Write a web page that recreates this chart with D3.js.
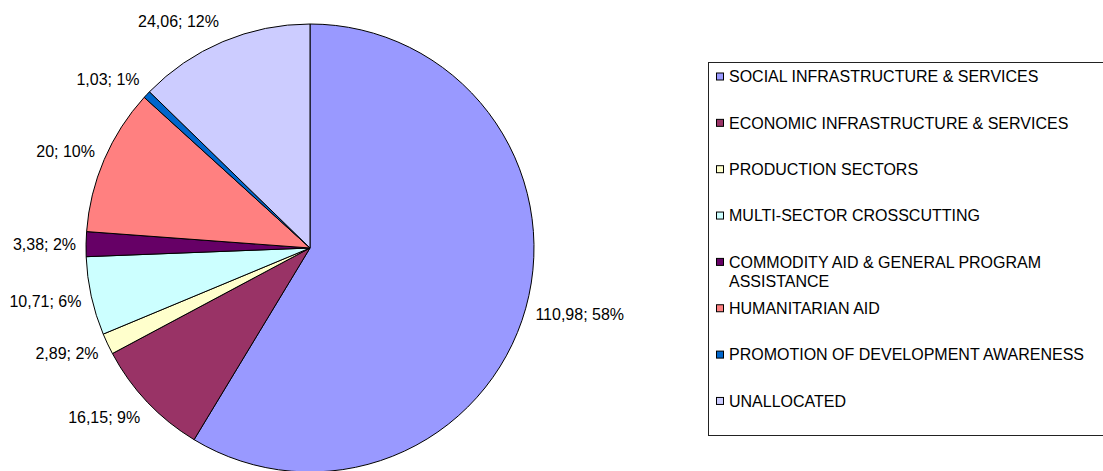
<!DOCTYPE html>
<html lang="en">
<head>
  <meta charset="UTF-8">
  <title>Aid by sector</title>
  <style>
    body {
      margin: 0;
      background-color: #fff;
    }
    svg {
      display: block;
    }
    .label, .legend text {
      font-family: "Liberation Sans", Arial, sans-serif;
      font-size: 16px;
      fill: #000;
    }
  </style>
</head>
<body>
  <svg class="chart"></svg>

  <script src="https://cdn.jsdelivr.net/npm/d3@7"></script>
  <script>
    var categories = [
      "SOCIAL INFRASTRUCTURE & SERVICES",
      "ECONOMIC INFRASTRUCTURE & SERVICES",
      "PRODUCTION SECTORS",
      "MULTI-SECTOR CROSSCUTTING",
      "COMMODITY AID & GENERAL PROGRAM ASSISTANCE",
      "HUMANITARIAN AID",
      "PROMOTION OF DEVELOPMENT AWARENESS",
      "UNALLOCATED"
    ];
    var values = [110.98, 16.15, 2.89, 10.71, 3.38, 20, 1.03, 24.06];
    // percentages as printed on the chart
    var percents = [58, 9, 2, 6, 2, 10, 1, 12];
    var colors = ["#9999ff", "#993366", "#ffffcc", "#ccffff", "#660066", "#ff8080", "#0066cc", "#ccccff"];
    // legend lines (long names wrap)
    var legendLines = [
      ["SOCIAL INFRASTRUCTURE & SERVICES"],
      ["ECONOMIC INFRASTRUCTURE & SERVICES"],
      ["PRODUCTION SECTORS"],
      ["MULTI-SECTOR CROSSCUTTING"],
      ["COMMODITY AID & GENERAL PROGRAM", "ASSISTANCE"],
      ["HUMANITARIAN AID"],
      ["PROMOTION OF DEVELOPMENT AWARENESS"],
      ["UNALLOCATED"]
    ];

    var width = 1103,
      height = 471;
    var cx = 310,
      cy = 248,
      radius = 224,
      labelRadius = 234;

    var svg = d3.select(".chart")
      .attr("width", width)
      .attr("height", height);

    var data = categories.map(function(c, i) {
      return { name: c, value: values[i], pct: percents[i], color: colors[i] };
    });

    var pie = d3.pie()
      .sort(null)
      .value(function(d) { return d.value; });

    var arc = d3.arc()
      .innerRadius(0)
      .outerRadius(radius);

    var g = svg.append("g")
      .attr("transform", "translate(" + cx + "," + cy + ")");

    var arcs = pie(data);

    g.selectAll("path")
      .data(arcs)
      .enter().append("path")
      .attr("d", arc)
      .attr("fill", function(d) { return d.data.color; })
      .attr("stroke", "#000")
      .attr("stroke-width", 1)
      .attr("stroke-linejoin", "round");

    function fmt(v) {
      return String(v).replace(".", ",");
    }

    g.selectAll(".label")
      .data(arcs)
      .enter().append("text")
      .attr("class", "label")
      .each(function(d) {
        var a = (d.startAngle + d.endAngle) / 2;
        var dx = Math.sin(a),
          dy = -Math.cos(a);
        var x = labelRadius * dx,
          y = labelRadius * dy;
        d3.select(this)
          .attr("x", x)
          .attr("y", y + 6 + 12 * dy)
          .attr("text-anchor", dx < 0 ? "end" : "start")
          .text(fmt(d.data.value) + "; " + d.data.pct + "%");
      });

    // legend
    var legendX = 708,
      legendY = 62,
      rowStep = 46.35,
      firstRow = 76.5;

    var legend = svg.append("g")
      .attr("class", "legend");

    legend.append("rect")
      .attr("x", legendX + 0.5)
      .attr("y", legendY + 0.5)
      .attr("width", 420)
      .attr("height", 373)
      .attr("fill", "#fff")
      .attr("stroke", "#222")
      .attr("stroke-width", 1);

    var item = legend.selectAll(".item")
      .data(data)
      .enter().append("g")
      .attr("class", "item")
      .attr("transform", function(d, i) {
        return "translate(0," + (firstRow + i * rowStep) + ")";
      });

    item.append("rect")
      .attr("x", 716.5)
      .attr("y", -3.5)
      .attr("width", 7)
      .attr("height", 7)
      .attr("fill", function(d) { return d.color; })
      .attr("stroke", "#000")
      .attr("stroke-width", 1);

    item.append("text")
      .attr("x", 729)
      .attr("y", 5.7)
      .each(function(d, i) {
        var t = d3.select(this);
        legendLines[i].forEach(function(line, j) {
          t.append("tspan")
            .attr("x", 729)
            .attr("dy", j === 0 ? 0 : 19.5)
            .text(line);
        });
      });
  </script>
</body>
</html>
